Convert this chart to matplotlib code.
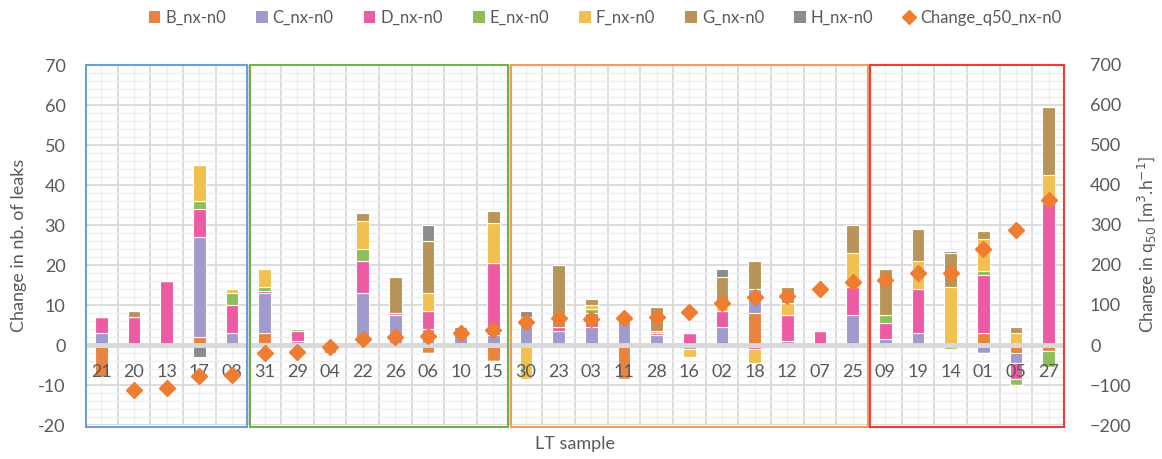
import numpy as np
import matplotlib
matplotlib.use("Agg")
import matplotlib.pyplot as plt
from matplotlib.lines import Line2D
from matplotlib.patches import Patch, Rectangle

plt.rcParams['font.family'] = ['Lato', 'DejaVu Sans']

samples = ['21', '20', '13', '17', '08', '31', '29', '04', '22', '26', '06', '10', '15',
           '30', '23', '03', '11', '28', '16', '02', '18', '12', '07', '25',
           '09', '19', '14', '01', '05', '27']

B_nx = [-8, 0, 0, 2, 0, 3, 0, 0, -0.5, 0, -2, 0, -4,
        0, 0, 0, -8.5, 0, 0, 0, 8, 0, 0, 0,
        0, 0, 0, 3, -2, -1.5]
C_nx = [3, 0, 0, 25, 3, 10, 1, -1, 13, 7.5, 4, 3, 2.5,
        5, 3.5, 4.5, 6, 2.5, -1, 4.5, 6, 1, 0, 7.5,
        1.5, 3, 0, -2, -2.5, 0]
D_nx = [4, 7, 16, 7, 7, 0.5, 2.5, -1, 8, 0.5, 4.5, -0.5, 18,
        0, 1, 3.5, 0, 0.5, 3, 4, -1, 6.5, 3.5, 7,
        4, 11, 0, 14.5, -4, 35.5]
E_nx = [0, 0, 0, 2, 3, 1, 0.5, 0, 3, 0, 0, 0, 0,
        0, 0, 1, 0, 0, 0, 0, 0, 0, 0, 0,
        2, 0, -1, 1, -1.5, -4]
F_nx = [0, 0, 0, 9, 1, 4.5, 0, 0, 7, 0, 4.5, 0, 10,
        -8.5, 0, 1, 0, 0.5, -2, 1, -3.5, 3, 0, 8.5,
        0, 7, 14.5, 8, 3, 7]
G_nx = [0, 1.5, 0, 0, 0, 0, 0, 0, 2, 9, 13, 1.5, 3,
        2, 15.5, 1.5, 0, 6, 0, 7.5, 7, 4, 0, 7,
        11.5, 8, 8.5, 2, 1.5, 17]
H_nx = [0, 0, 0, -3, 0, 0, 0, 0, 0, 0, 4, 0, 0,
        1.5, 0, 0, 0, 0, 0, 2, 0, 0, 0, 0,
        0, 0, 0.5, 0, 0, 0]
change_q50 = [np.nan, -112, -108, -77, -75, -20, -17, -5, 14, 19, 23, 29, 37,
              58, 67, 66, 67, 71, 83, 106, 119, 122, 140, 158,
              162, 179, 179, 239, 287, 362]

series_names = ['B_nx-n0', 'C_nx-n0', 'D_nx-n0', 'E_nx-n0', 'F_nx-n0', 'G_nx-n0', 'H_nx-n0']
series_vals = [B_nx, C_nx, D_nx, E_nx, F_nx, G_nx, H_nx]
colors = ['#E8843E', '#A09ACD', '#EC5BA4', '#8DBE5B', '#F1C04F', '#B8945A', '#8C8C8C']

groups = [(0, 4, '#6A9FD8'), (5, 12, '#72B04C'), (13, 23, '#F39A5C'), (24, 29, '#F23A3A')]

W, H = 1162, 459
fig = plt.figure(figsize=(W / 100, H / 100), dpi=100)
ax = fig.add_axes([85 / W, (H - 425) / H, 980 / W, 360 / H])
ax2 = ax.twinx()

x = np.arange(len(samples))
txt = '#595959'

# grid
ax.set_axisbelow(True)
ax.set_ylim(-20, 70)
ax.set_xlim(-0.5, len(samples) - 0.5)
ax.set_yticks(np.arange(-20, 71, 10))
ax.set_yticks(np.arange(-20, 71, 2), minor=True)
ax.set_xticks(np.arange(-0.5, len(samples), 1.0))
ax.set_xticks(x, minor=True)
ax.grid(True, which='major', color='#d9d9d9', lw=1.3)
ax.grid(True, which='minor', color='#efefef', lw=1.0)
ax.tick_params(which='both', length=0)
ax.tick_params(axis='x', which='both', labelbottom=False)
ax.tick_params(axis='y', labelsize=13, labelcolor=txt, pad=14)
ax.set_yticklabels([str(v) for v in np.arange(-20, 71, 10)])
for s in ax.spines.values():
    s.set_visible(False)

# stacked bars
pos_bottom = np.zeros(len(samples))
neg_bottom = np.zeros(len(samples))
bw = 0.38
for name, vals, c in zip(series_names, series_vals, colors):
    v = np.array(vals, dtype=float)
    pos = np.where(v > 0, v, 0)
    neg = np.where(v < 0, v, 0)
    ax.bar(x, pos, bw, bottom=pos_bottom, color=c, edgecolor='white', lw=0.8, zorder=2)
    ax.bar(x, neg, bw, bottom=neg_bottom, color=c, edgecolor='white', lw=0.8, zorder=2)
    pos_bottom += pos
    neg_bottom += neg

# zero axis line
ax.axhline(0, color='#d9d9d9', lw=3.5, zorder=3)

# category labels at the zero line
for xi, lab in zip(x, samples):
    ax.annotate(lab, (xi, 0), xytext=(0, -19.5), textcoords='offset points',
                ha='center', va='center', fontsize=13, color=txt, zorder=4)

# group boxes
for i0, i1, c in groups:
    ax.add_patch(Rectangle((i0 - 0.46, -20.4), (i1 - i0) + 0.92, 90.5, fill=False,
                           edgecolor=c, lw=1.5, zorder=5, clip_on=False))

# right axis markers
ax2.set_ylim(-200, 700)
ax2.set_yticks(np.arange(-200, 701, 100))
ax2.plot(x, change_q50, ls='none', marker='D', ms=8.5, color='#EE7D31', zorder=6)
ax2.tick_params(length=0, labelsize=13, labelcolor=txt, pad=18)
for s in ax2.spines.values():
    s.set_visible(False)

ax.set_ylabel('Change in nb. of leaks', fontsize=13, color=txt, labelpad=8)
ax2.set_ylabel('Change in q$_{50}$ [m$^{3}$.h$^{-1}$]', fontsize=12.5, color=txt, labelpad=3)
ax.set_xlabel('LT sample', fontsize=13, color=txt)
ax.xaxis.set_label_coords(0.5, -0.03)

handles = [Patch(facecolor=c, edgecolor='none') for c in colors]
handles.append(Line2D([], [], ls='none', marker='D', color='#EE7D31', ms=7))
labels = series_names + ['Change_q50_nx-n0']
fig.legend(handles, labels, loc='center', bbox_to_anchor=(605 / W, 1 - 18 / H), ncol=8,
           frameon=False, fontsize=12, handlelength=0.7, handleheight=0.7,
           handletextpad=0.3, columnspacing=1.8, labelcolor=txt)

fig.savefig('out.png', dpi=100)
